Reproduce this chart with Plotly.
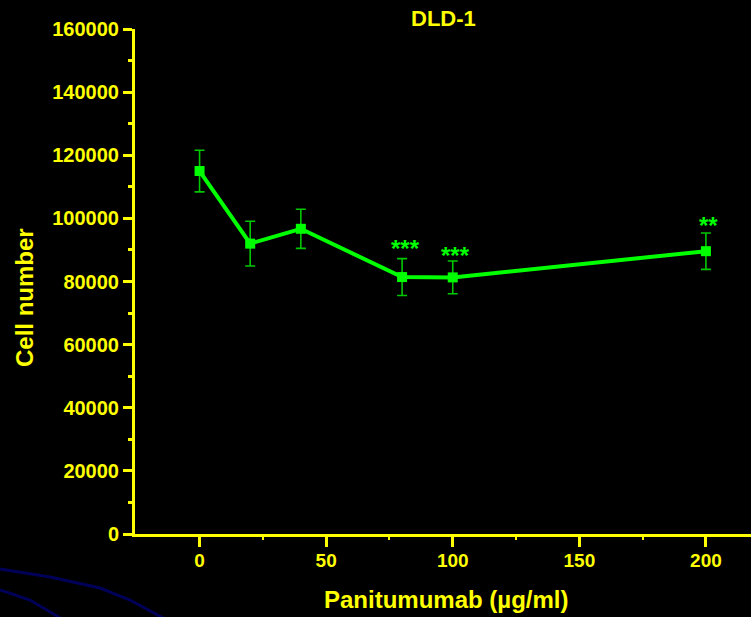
import plotly.graph_objects as go

# Data
dose = [0, 20, 40, 80, 100, 200]
cells = [115000, 92000, 96700, 81400, 81300, 89600]
err = [6600, 7100, 6200, 5850, 5200, 5750]
sig = ["", "", "", "***", "***", "**"]
sig_y = [None, None, None, 90600, 88200, 97900]

YELLOW = "#FFFF00"
GREEN = "#00FF00"
FONT = "Liberation Sans, Arial, sans-serif"

W, H = 751, 617
ML, MR, MT, MB = 135, 0, 29, 83
PW, PH = W - ML - MR, H - MT - MB


def px(x):
    return (x - ML) / PW


def py(y):
    return (H - MB - y) / PH


fig = go.Figure()
fig.add_trace(go.Scatter(
    x=dose, y=cells,
    mode="lines+markers",
    line=dict(color=GREEN, width=4),
    marker=dict(symbol="square", size=10, color=GREEN),
    error_y=dict(type="data", array=err, visible=True, color="#00C800",
                 thickness=1.6, width=5),
    showlegend=False,
))

for xv, s, yv in zip(dose, sig, sig_y):
    if s:
        fig.add_annotation(x=xv, y=yv, text="<b>" + s + "</b>", showarrow=False,
                           xshift=3, yanchor="middle",
                           font=dict(family=FONT, size=24, color=GREEN))

# axis titles placed as annotations (pixel-matched)
fig.add_annotation(xref="paper", yref="paper", x=px(24), y=py(298),
                   text="<b>Cell number</b>", textangle=-90, showarrow=False,
                   xanchor="center", yanchor="middle",
                   font=dict(family=FONT, size=24, color=YELLOW))
fig.add_annotation(xref="paper", yref="paper", x=px(446), y=py(599),
                   text="<b>Panitumumab (µg/ml)</b>", showarrow=False,
                   xanchor="center", yanchor="middle",
                   font=dict(family=FONT, size=24, color=YELLOW))
fig.add_annotation(xref="paper", yref="paper", x=px(443), y=py(19),
                   text="<b>DLD-1</b>", showarrow=False,
                   xanchor="center", yanchor="middle",
                   font=dict(family=FONT, size=22, color=YELLOW))

# decorative background curves (bottom-left)
def path(pts):
    d = "M %f,%f" % (px(pts[0][0]), py(pts[0][1]))
    for a, b in pts[1:]:
        d += " L %f,%f" % (px(a), py(b))
    return d

fig.add_shape(type="path", xref="paper", yref="paper",
              path=path([(0, 569), (50, 577), (100, 588), (130, 600), (165, 619)]),
              line=dict(color="#000058", width=3), layer="below")
fig.add_shape(type="path", xref="paper", yref="paper",
              path=path([(0, 590), (30, 600), (62, 619)]),
              line=dict(color="#000058", width=3), layer="below")

yt = [0, 20000, 40000, 60000, 80000, 100000, 120000, 140000, 160000]
xt = [0, 50, 100, 150, 200]

fig.update_layout(
    width=W, height=H,
    margin=dict(l=ML, r=MR, t=MT, b=MB),
    paper_bgcolor="black", plot_bgcolor="black",
    xaxis=dict(
        range=[-25.5, 217.8],
        tickvals=xt, ticktext=["<b>%d</b>" % v for v in xt],
        ticks="outside", ticklen=10, tickwidth=3, tickcolor=YELLOW,
        ticklabelstandoff=-3,
        minor=dict(tickvals=[25, 75, 125, 175], ticks="outside", ticklen=3,
                   tickwidth=2, tickcolor=YELLOW),
        showline=True, linecolor=YELLOW, linewidth=3,
        showgrid=False, zeroline=False,
        tickfont=dict(family=FONT, size=19, color=YELLOW),
    ),
    yaxis=dict(
        range=[0, 160000],
        tickvals=yt, ticktext=["<b>%d</b>" % v for v in yt],
        ticks="outside", ticklen=9, tickwidth=3, tickcolor=YELLOW,
        minor=dict(tickvals=[10000, 30000, 50000, 70000, 90000, 110000, 130000, 150000],
                   ticks="outside", ticklen=4, tickwidth=3, tickcolor=YELLOW),
        showline=True, linecolor=YELLOW, linewidth=3,
        showgrid=False, zeroline=False,
        tickfont=dict(family=FONT, size=20, color=YELLOW),
    ),
)

fig.write_html("out.html", config={"displayModeBar": False},
               post_script="document.body.style.margin='0';document.body.style.background='black';")
